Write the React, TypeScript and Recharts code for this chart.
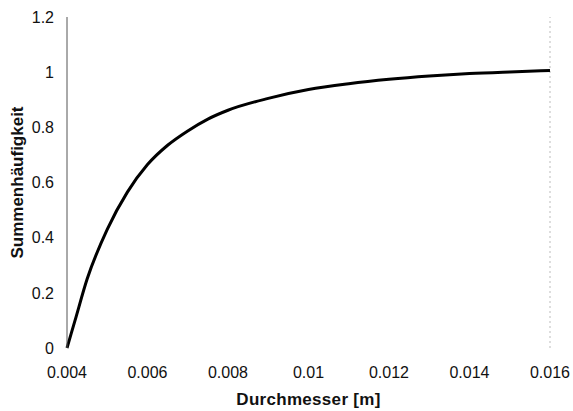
import React from "react";
import { LineChart, Line, XAxis, YAxis, ReferenceLine, Label } from "recharts";

const diameters = [0.004, 0.0042, 0.0045, 0.005, 0.0055, 0.006, 0.0065, 0.007, 0.0075, 0.008, 0.009, 0.01, 0.011, 0.012, 0.013, 0.014, 0.015, 0.016];
const cumulative = [0, 0.1, 0.25, 0.43, 0.565, 0.665, 0.735, 0.787, 0.83, 0.862, 0.905, 0.937, 0.958, 0.974, 0.986, 0.995, 1.001, 1.006];
const xTicks = [0.004, 0.006, 0.008, 0.01, 0.012, 0.014, 0.016];
const yTicks = [0, 0.2, 0.4, 0.6, 0.8, 1, 1.2];

const data = diameters.map((d, i) => ({ d, v: cumulative[i] }));

const font = "'Liberation Sans', Arial, sans-serif";

export default function App() {
  return (
    <div style={{ position: "absolute", left: 0, top: 0, width: 573, height: 411, background: "#fff" }}>
      <LineChart width={573} height={411} data={data} margin={{ top: 17, right: 23, left: 0, bottom: 0 }}>
        <XAxis
          dataKey="d"
          type="number"
          domain={[0.004, 0.016]}
          ticks={xTicks}
          tickFormatter={(v: number) => String(Number(v.toFixed(3)))}
          axisLine={false}
          tickLine={false}
          tickMargin={13}
          height={63}
          tick={{ fill: "#111", fontSize: 16, fontFamily: font }}
        >
          <Label
            value="Durchmesser [m]"
            position="insideBottom"
            offset={6}
            style={{ fill: "#111", fontSize: 17, fontWeight: "bold", fontFamily: font, letterSpacing: 0.3 }}
          />
        </XAxis>
        <YAxis
          type="number"
          domain={[0, 1.2]}
          ticks={yTicks}
          width={67}
          axisLine={{ stroke: "#555", strokeWidth: 1 }}
          tickLine={false}
          tickMargin={7}
          tick={{ fill: "#111", fontSize: 16, fontFamily: font }}
        >
          <Label
            value="Summenhäufigkeit"
            angle={-90}
            position="insideLeft"
            offset={17}
            style={{ textAnchor: "middle", fill: "#111", fontSize: 17, fontWeight: "bold", fontFamily: font }}
          />
        </YAxis>
        <ReferenceLine x={0.016} stroke="#bbb" strokeDasharray="2 3" />
        <Line
          type="monotone"
          dataKey="v"
          stroke="#000"
          strokeWidth={3}
          dot={false}
          isAnimationActive={false}
        />
      </LineChart>
    </div>
  );
}
